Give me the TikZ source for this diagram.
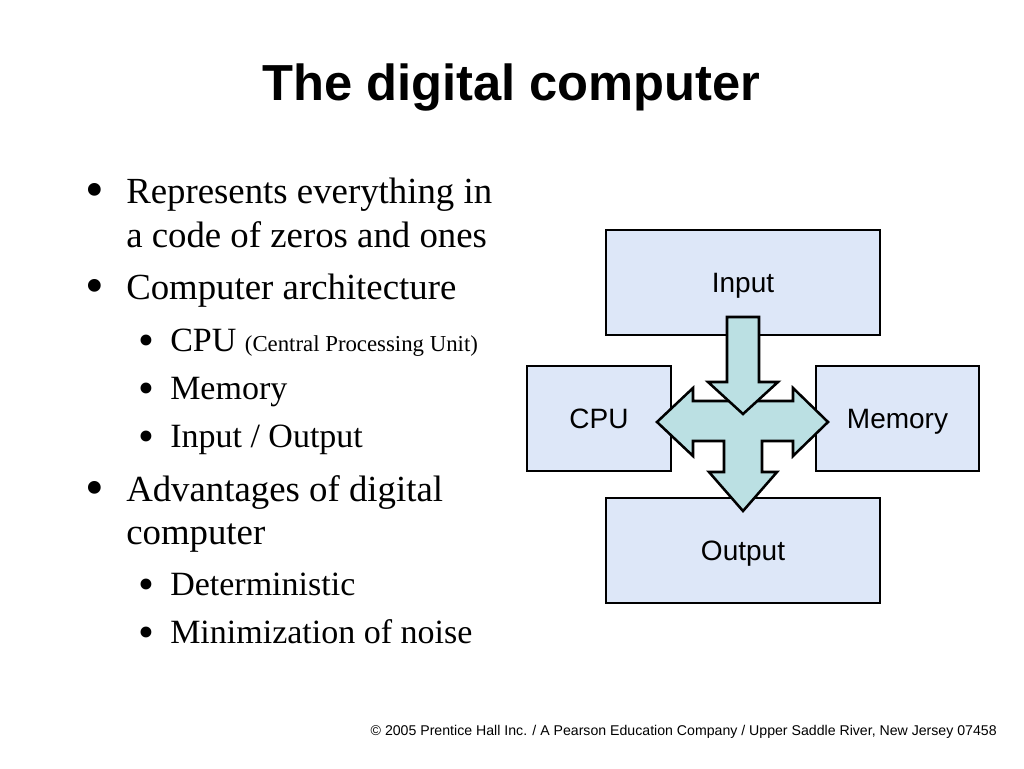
\documentclass[tikz,border=0pt]{standalone}
\usepackage{fontspec}
\setmainfont{Liberation Serif}
\setsansfont{Liberation Sans}
\usetikzlibrary{positioning}
\definecolor{boxblue}{RGB}{221,231,248}
\definecolor{arrowteal}{RGB}{187,224,227}

\begin{document}
\begin{tikzpicture}[x=0.75pt, y=-0.75pt,
    unit/.style={draw, line width=1.9pt, fill=boxblue, minimum height=78.75pt, inner sep=0pt,
      font=\sffamily\fontsize{21}{21}\selectfont, text height=15pt, text depth=0pt},
    bigarrow/.style={draw, line width=1.9pt, fill=arrowteal, line join=miter},
    item/.style={anchor=base west, inner sep=0pt, font=\fontsize{27.6}{30}\selectfont},
    subitem/.style={anchor=base west, inner sep=0pt, font=\fontsize{25.5}{28}\selectfont},
    dot/.style={anchor=base, inner sep=0pt, font=\fontsize{40}{40}\selectfont},
    subdot/.style={anchor=base, inner sep=0pt, font=\fontsize{34}{34}\selectfont}]
    \useasboundingbox (0,0) rectangle (1024,768);
    \fill[white] (0,0) rectangle (1024,768);
    % title
    \node[anchor=base, inner sep=0pt, font=\sffamily\bfseries\fontsize{38}{40}\selectfont] (title) at (511.5,100) {The digital computer};
    % bullet list
    \begin{scope}
      \node[dot] (d1) at (95,207) {•};
      \node[item] (t1) at (126,203) {Represents everything in};
      \node[item] (t1b) at (126,247) {a code of zeros and ones};
      \node[dot] (d2) at (95,303) {•};
      \node[item] (t2) at (126,299) {Computer architecture};
      \node[subdot] (d21) at (146,355) {•};
      \node[subitem] (t21) at (170,351) {CPU {\fontsize{17.1}{18}\selectfont (Central Processing Unit)}};
      \node[subdot] (d22) at (146,403) {•};
      \node[subitem] (t22) at (170,399) {Memory};
      \node[subdot] (d23) at (146,451) {•};
      \node[subitem] (t23) at (170,447) {Input / Output};
      \node[dot] (d3) at (95,505) {•};
      \node[item] (t3) at (126,501) {Advantages of digital};
      \node[item] (t3b) at (126,544) {computer};
      \node[subdot] (d31) at (146,599) {•};
      \node[subitem] (t31) at (170,595) {Deterministic};
      \node[subdot] (d32) at (146,647) {•};
      \node[subitem] (t32) at (170,643) {Minimization of noise};
    \end{scope}
    % the four units
    \node[unit, minimum width=205.5pt] (input) at (743,282.5) {Input};
    \node[unit, minimum width=108pt] (cpu) at (599,418.5) {CPU};
    \node[unit, minimum width=122.25pt] (memory) at (897.5,418.5) {Memory};
    \node[unit, minimum width=205.5pt] (output) at (743,550.5) {Output};
    % block arrows round the hub
    \coordinate (hub) at (743,422);
    \begin{scope}[shift={(hub)}]
      \draw[bigarrow] (-50,-21) -- (50,-21) -- (50,-34) -- (85,0) -- (50,34) -- (50,19)
        -- (19,19) -- (19,50) -- (34,50) -- (0,89) -- (-34,50) -- (-19,50) -- (-19,19)
        -- (-50,19) -- (-50,34) -- (-86,0) -- (-50,-34) -- cycle;
      \draw[bigarrow] (-16,-105) -- (16,-105) -- (16,-40) -- (35,-40) -- (0,-8)
        -- (-35,-40) -- (-16,-40) -- cycle;
    \end{scope}
    % footer
    \node[anchor=base east, inner sep=0pt, font=\sffamily\fontsize{10.6}{11}\selectfont] (credit) at (997,735)
      {© 2005 Prentice Hall Inc. / A Pearson Education Company / Upper Saddle River, New Jersey 07458};
  \end{tikzpicture}
\end{document}
